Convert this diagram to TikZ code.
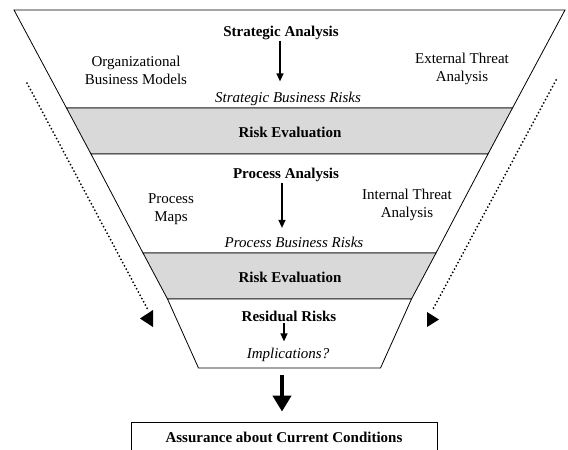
\documentclass[tikz,border=0pt]{standalone}
\usepackage{fontspec}
\setmainfont{Liberation Serif}
\usetikzlibrary{arrows.meta}
\begin{document}
\begin{tikzpicture}[x=1pt,y=-1pt,
  lbl/.style={font=\fontsize{15}{18}\selectfont, align=center, inner sep=0pt},
  head/.style={lbl, font=\fontsize{15}{18}\selectfont\bfseries},
  result/.style={lbl, font=\fontsize{15}{18}\selectfont\itshape},
  band/.style={draw=black, line width=0.8pt, fill=gray!30},
  tier/.style={draw=black, line width=0.8pt, fill=white},
  flow/.style={-{Triangle[length=8pt,width=7pt]}, line width=1.3pt},
  bigflow/.style={-{Triangle[length=16pt,width=18pt]}, line width=4pt},
  drift/.style={line width=2pt, dash pattern=on 0pt off 3.7pt, line cap=round},
  drifttip/.style={fill=black}]

\useasboundingbox (0,0) rectangle (568,450);
\clip (0,0) rectangle (568,450);

% funnel corners, level by level
\coordinate (l0) at (14,10);    \coordinate (r0) at (565,10);
\coordinate (l1) at (66.5,108); \coordinate (r1) at (512.5,108);
\coordinate (l2) at (91,154);   \coordinate (r2) at (488,154);
\coordinate (l3) at (143,253);  \coordinate (r3) at (436,253);
\coordinate (l4) at (167.5,299);\coordinate (r4) at (411.5,299);
\coordinate (l5) at (198.5,368);\coordinate (r5) at (380.5,368);
\coordinate (fb) at (282,368);

% funnel tiers
\path[tier] (l0) -- (r0) -- (r1) -- (l1) -- cycle;
\path[band] (l1) -- (r1) -- (r2) -- (l2) -- cycle;
\path[tier] (l2) -- (r2) -- (r3) -- (l3) -- cycle;
\path[band] (l3) -- (r3) -- (r4) -- (l4) -- cycle;
\path[tier] (l4) -- (r4) -- (r5) -- (l5) -- cycle;

% strategic level
\node[head, anchor=base] (sa) at (281,36) {Strategic Analysis};
\node[lbl] (obm) at (136,70) {Organizational\\Business Models};
\node[lbl] (eta) at (462,69) {External Threat\\Analysis};
\node[result, anchor=base] (sbr) at (288,102) {Strategic Business Risks};
\node[head, anchor=base] (re1) at (290,137) {Risk Evaluation};

% process level
\node[head, anchor=base] (pa) at (286,178) {Process Analysis};
\node[lbl] (pm) at (171,209) {Process\\Maps};
\node[lbl] (ita) at (407,205) {Internal Threat\\Analysis};
\node[result, anchor=base] (pbr) at (294,247) {Process Business Risks};
\node[head, anchor=base] (re2) at (290,282) {Risk Evaluation};

% residual level
\node[head, anchor=base] (rr) at (289,321) {Residual Risks};
\node[result, anchor=base] (imp) at (288,358) {Implications?};

% outcome
\node[head, draw=black, line width=0.8pt, minimum width=306pt, minimum height=30pt] (ac) at (284,437) {Assurance about Current Conditions};

% flow arrows
\draw[flow, shorten <=1pt, shorten >=10pt] ([xshift=-1pt]sa.south) -- ([xshift=-1pt]sa.south |- sbr.north);
\draw[flow, shorten <=1.5pt, shorten >=8.5pt] ([xshift=-4pt]pa.south) -- ([xshift=-4pt]pa.south |- pbr.north);
\draw[flow, shorten <=2pt, shorten >=6pt] ([xshift=-5pt]rr.south) -- ([xshift=-5pt]rr.south |- imp.north);
\draw[bigflow, shorten <=7pt, shorten >=10pt] (fb) -- (fb |- ac.north);

% dotted side arrows
\coordinate (ls) at (27,83);   \coordinate (le) at (148,310);
\coordinate (rs) at (556,80);  \coordinate (re) at (432,311);
\draw[drift] (ls) -- (le);
\draw[drift] (rs) -- (re);
\fill[drifttip] (153,310) -- (153,327) -- (140,318.5) -- cycle;
\fill[drifttip] (427,312) -- (427,327) -- (439,319.5) -- cycle;
\end{tikzpicture}
\end{document}
